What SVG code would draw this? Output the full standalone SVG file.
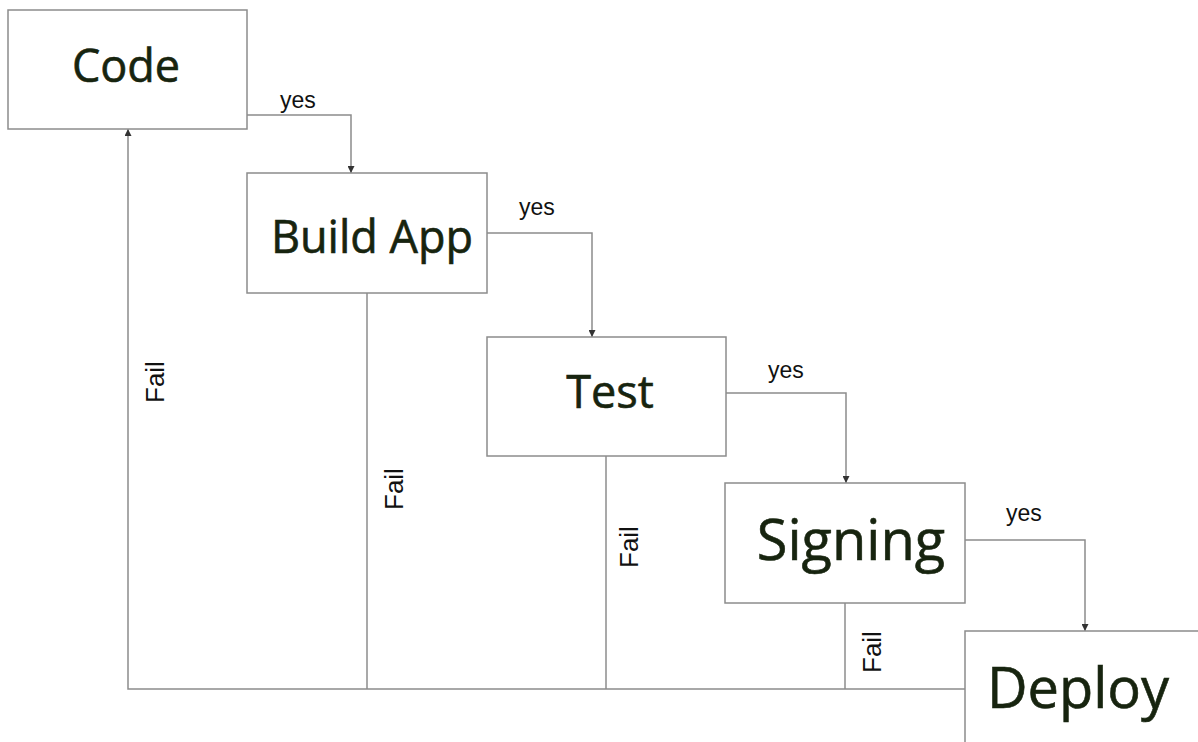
<svg xmlns="http://www.w3.org/2000/svg" width="1198" height="742" viewBox="0 0 1198 742">
<style>
.box{fill:#fff;stroke:#8c8c8c;stroke-width:1.5}
.t{font-family:"Open Sans","Noto Sans",sans-serif;font-size:45px;fill:#17240f;stroke:#17240f;stroke-width:0.6;text-anchor:middle}
.big{font-size:56px}
.c{fill:none;stroke:#8c8c8c;stroke-width:1.5}
.l{font-family:"Liberation Sans",Arial,sans-serif;font-size:23px;fill:#111}
.f{font-size:26px}
</style>
<defs>
<marker id="ah" viewBox="0 0 10 10" refX="10" refY="5" markerWidth="7" markerHeight="7" orient="auto" markerUnits="userSpaceOnUse">
<path d="M0,0 L10,5 L0,10 z" fill="#333"/>
</marker>
</defs>
<rect width="1198" height="742" fill="#fff"/>
<g id="connectors">
<path class="c" d="M247,115 H351 V173" marker-end="url(#ah)"/>
<path class="c" d="M487,233 H592 V337" marker-end="url(#ah)"/>
<path class="c" d="M726,393 H846 V483" marker-end="url(#ah)"/>
<path class="c" d="M965,540 H1085 V631" marker-end="url(#ah)"/>
<path class="c" d="M367,293 V689"/>
<path class="c" d="M606,456 V689"/>
<path class="c" d="M845,603 V689"/>
<path class="c" d="M965,689 H128 V129" marker-end="url(#ah)"/>
<text class="l" x="280" y="108">yes</text>
<text class="l" x="519" y="215">yes</text>
<text class="l" x="768" y="378">yes</text>
<text class="l" x="1006" y="521">yes</text>
<text class="l f" transform="translate(164,403) rotate(-90)">Fail</text>
<text class="l f" transform="translate(403,510) rotate(-90)">Fail</text>
<text class="l f" transform="translate(638,568) rotate(-90)">Fail</text>
<text class="l f" transform="translate(881,673) rotate(-90)">Fail</text>
</g>
<g id="code"><rect class="box" x="8" y="10" width="239" height="119"/><text class="t" x="126" y="82">Code</text></g>
<g id="build"><rect class="box" x="247" y="173" width="240" height="120"/><text class="t" x="372" y="253">Build App</text></g>
<g id="test"><rect class="box" x="487" y="337" width="239" height="119"/><text class="t" x="610" y="408">Test</text></g>
<g id="signing"><rect class="box" x="725" y="483" width="240" height="120"/><text class="t big" x="851" y="560">Signing</text></g>
<g id="deploy"><rect class="box" x="965" y="631" width="240" height="120"/><text class="t big" x="1078" y="708">Deploy</text></g>
</svg>
